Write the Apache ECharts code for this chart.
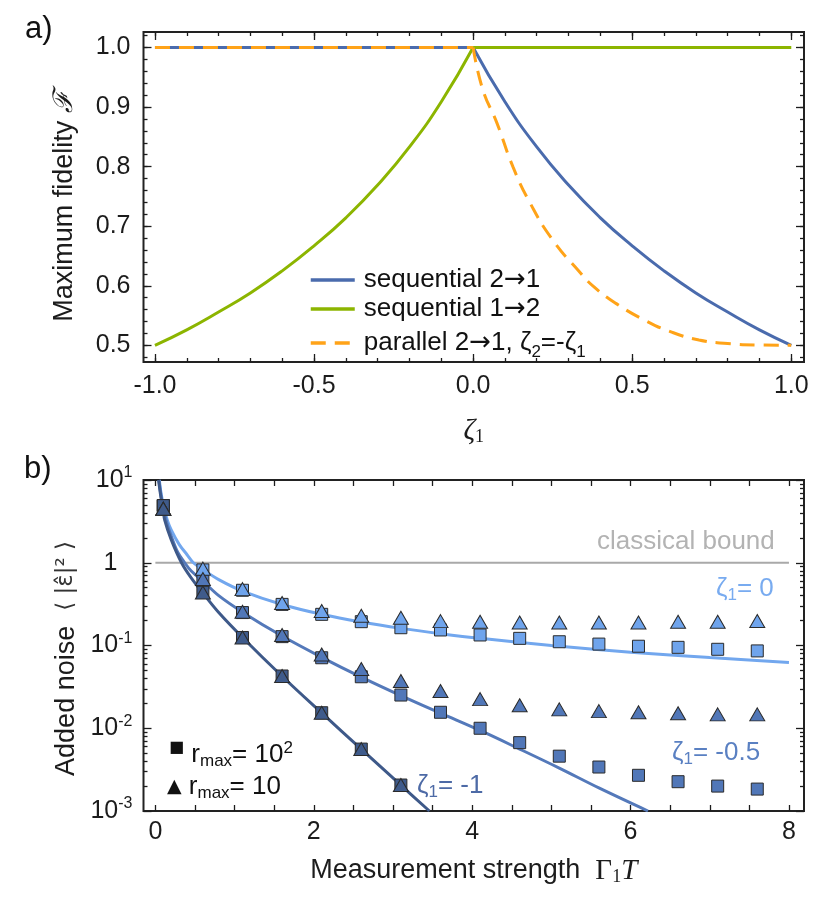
<!DOCTYPE html>
<html><head><meta charset="utf-8">
<script src="https://cdn.jsdelivr.net/npm/echarts@6/dist/echarts.min.js"></script>
<style>html,body{margin:0;padding:0;background:#fff}#c{width:830px;height:898px}</style>
</head><body><div id="c"></div>
<script>
// ===== Panel a) data =====
const zetaFlatLeft = [-1, 0];
const zetaFlatRight = [0, 1];
const flatOne = [1, 1];
const zetaNeg = [-1, -0.9, -0.8, -0.7, -0.6, -0.5, -0.4, -0.3, -0.2, -0.1, 0];
const seq12Neg = [0.5, 0.526, 0.556, 0.588, 0.625, 0.667, 0.714, 0.769, 0.833, 0.909, 1.0];
const zetaPos = [0, 0.1, 0.2, 0.3, 0.4, 0.5, 0.6, 0.7, 0.8, 0.9, 1];
const seq21Pos = [1.0, 0.909, 0.833, 0.769, 0.714, 0.667, 0.625, 0.588, 0.556, 0.526, 0.5];
const zetaPar = [0, 0.03, 0.075, 0.125, 0.18, 0.25, 0.33, 0.38, 0.45, 0.54, 0.62, 0.71, 0.80, 0.90, 1.0];
const par21Pos = [1.0, 0.93, 0.873, 0.80, 0.738, 0.677, 0.626, 0.598, 0.570, 0.542, 0.523, 0.509, 0.503, 0.5005, 0.5];
const aXMajor = [-1, -0.5, 0, 0.5, 1];
const aXMinor = [-1, -0.9, -0.8, -0.7, -0.6, -0.5, -0.4, -0.3, -0.2, -0.1, 0, 0.1, 0.2, 0.3, 0.4, 0.5, 0.6, 0.7, 0.8, 0.9, 1];
const aYMajor = [0.5, 0.6, 0.7, 0.8, 0.9, 1.0];
const aYMinor = [0.48, 0.5, 0.52, 0.54, 0.56, 0.58, 0.6, 0.62, 0.64, 0.66, 0.68, 0.7, 0.72, 0.74, 0.76, 0.78, 0.8, 0.82, 0.84, 0.86, 0.88, 0.9, 0.92, 0.94, 0.96, 0.98, 1.0, 1.02];
const N21 = 'sequential 2→1', N12 = 'sequential 1→2', NP = 'parallel 2→1, ζ2=-ζ1';

// ===== Panel b) data =====
const boundX = [0, 8];
const boundY = [1, 1];
const curve0X = [0.05, 0.07, 0.1, 0.15, 0.2, 0.3, 0.4, 0.48, 0.6, 0.8, 1.1, 1.6, 2.1, 2.6, 3.1, 3.6, 4.1, 5, 6, 7, 8];
const curve0Y = [10, 7.1, 5, 3.3, 2.5, 1.67, 1.25, 1.0, 0.83, 0.625, 0.455, 0.313, 0.238, 0.192, 0.161, 0.139, 0.122, 0.1, 0.083, 0.0714, 0.0625];
const curveM05X = [0.045, 0.07, 0.1, 0.15, 0.2, 0.28, 0.37, 0.45, 0.6, 0.8, 1.1, 1.6, 2.1, 2.6, 3.1, 3.6, 4.1, 4.6, 5.1, 5.6, 6.22];
const curveM05Y = [10, 6.6, 4.6, 2.9, 2.1, 1.35, 1.0, 0.8, 0.6, 0.4, 0.253, 0.13, 0.072, 0.0415, 0.0248, 0.0152, 0.0094, 0.0056, 0.0033, 0.0019, 0.001];
const curveM1X = [0.04, 0.07, 0.1, 0.117, 0.2, 0.33, 0.45, 0.6, 0.8, 1.1, 1.6, 2.1, 2.6, 3.1, 3.46];
const curveM1Y = [10, 6.2, 4.3, 3.3, 1.9, 1.0, 0.66, 0.43, 0.25, 0.125, 0.0425, 0.0153, 0.0056, 0.00205, 0.001];
const gammaT = [0.1, 0.6, 1.1, 1.6, 2.1, 2.6, 3.1, 3.6, 4.1, 4.6, 5.1, 5.6, 6.1, 6.6, 7.1, 7.6];
const sqZ0 = [4.9, 0.82, 0.465, 0.314, 0.238, 0.194, 0.164, 0.154, 0.134, 0.122, 0.111, 0.104, 0.098, 0.095, 0.090, 0.086];
const triZ0 = [4.5, 0.85, 0.48, 0.326, 0.261, 0.229, 0.216, 0.197, 0.194, 0.19, 0.19, 0.19, 0.19, 0.194, 0.194, 0.198];
const sqZm05 = [4.9, 0.60, 0.25, 0.128, 0.0711, 0.0419, 0.0252, 0.0156, 0.0100, 0.0067, 0.0046, 0.0034, 0.0027, 0.00226, 0.0020, 0.00184];
const triZm05 = [4.5, 0.635, 0.256, 0.134, 0.078, 0.052, 0.0372, 0.0282, 0.0225, 0.019, 0.0169, 0.0161, 0.0156, 0.0152, 0.0147, 0.0147];
const gammaTm1 = [0.1, 0.6, 1.1, 1.6, 2.1, 2.6, 3.1];
const sqZm1 = [4.9, 0.44, 0.125, 0.0428, 0.0154, 0.0056, 0.00206];
const triZm1 = [4.5, 0.436, 0.125, 0.0428, 0.0154, 0.0056, 0.00206];
const bXTicks = [0, 0.5, 1, 1.5, 2, 2.5, 3, 3.5, 4, 4.5, 5, 5.5, 6, 6.5, 7, 7.5, 8];
const bXLabels = [0, 2, 4, 6, 8];
const bYDecades = [-3, -2, -1, 0];
const bYMinorMult = [2, 3, 4, 5, 6, 7, 8, 9];

// ===== helpers =====
const pairs = (xs, ys) => xs.map((x, i) => [x, ys[i]]);
const bYMinor = [];
bYDecades.forEach(d => bYMinorMult.forEach(m => bYMinor.push(Math.log10(m) + d)));

const INK = '#1c1c1c';
const FONT = 'Liberation Sans';
function axisBase(o) {
  return Object.assign({
    type: 'value',
    axisLine: { show: false, onZero: false },
    splitLine: { show: false },
    axisLabel: { show: false },
  }, o);
}
function ticks(values, len) {
  return { show: true, inside: true, length: len, customValues: values, lineStyle: { color: INK, width: 1.3 } };
}

const blue = '#4a6bad', green = '#8cb500', orange = '#ffa318';
const cLight = '#72a7ee', cMid = '#5479ba', cDark = '#3e5989';
const mLight = '#6fa4ec', mMid = '#5177b8', mDark = '#3f5b8b';

const aX = { min: -1.036, max: 1.04 };
const aY = { min: 0.472, max: 1.026 };
const bX = { min: -0.15, max: 8.19 };

const xAxis = [
  axisBase(Object.assign({ gridIndex: 0, position: 'bottom', axisTick: ticks(aXMajor, 8),
    axisLabel: { show: true, customValues: aXMajor, formatter: v => v.toFixed(1), fontSize: 25, fontFamily: FONT, color: INK, margin: 12 },
    name: '{z|ζ}{s|1}', nameLocation: 'middle', nameGap: 54,
    nameTextStyle: { rich: {
      z: { fontFamily: 'Liberation Serif', fontStyle: 'italic', fontSize: 29, lineHeight: 30, color: INK },
      s: { fontFamily: 'Liberation Serif', fontSize: 18, lineHeight: 18, verticalAlign: 'bottom', color: INK } } }
  }, aX)),
  axisBase(Object.assign({ gridIndex: 0, position: 'top', axisTick: ticks(aXMajor, 8) }, aX)),
  axisBase(Object.assign({ gridIndex: 0, position: 'bottom', axisTick: ticks(aXMinor, 4) }, aX)),
  axisBase(Object.assign({ gridIndex: 0, position: 'top', axisTick: ticks(aXMinor, 4) }, aX)),
  axisBase(Object.assign({ gridIndex: 1, position: 'bottom', axisTick: ticks(bXTicks, 6),
    axisLabel: { show: true, customValues: bXLabels, formatter: v => String(v), fontSize: 25, fontFamily: FONT, color: INK, margin: 9 },
    name: '{t|Measurement strength  }{g|Γ}{s|1}{i|T}', nameLocation: 'middle', nameGap: 45,
    nameTextStyle: { rich: {
      t: { fontFamily: FONT, fontSize: 27, lineHeight: 30, color: INK },
      g: { fontFamily: 'Liberation Serif', fontSize: 29, lineHeight: 30, color: INK },
      s: { fontFamily: 'Liberation Serif', fontSize: 18, lineHeight: 18, verticalAlign: 'bottom', color: INK },
      i: { fontFamily: 'Liberation Serif', fontStyle: 'italic', fontSize: 29, lineHeight: 30, color: INK } } }
  }, bX)),
  axisBase(Object.assign({ gridIndex: 1, position: 'top', axisTick: ticks(bXTicks, 6) }, bX)),
];

const yAxis = [
  axisBase(Object.assign({ gridIndex: 0, position: 'left', axisTick: ticks(aYMajor, 8),
    axisLabel: { show: true, customValues: aYMajor, formatter: v => v.toFixed(1), fontSize: 25, fontFamily: FONT, color: INK, margin: 13 },
    name: '{t|Maximum fidelity }{f|ℱ}', nameLocation: 'middle', nameGap: 64,
    nameTextStyle: { padding: [0, 19, 0, 0], rich: {
      t: { fontFamily: FONT, fontSize: 27, lineHeight: 30, color: INK },
      f: { fontFamily: 'DejaVu Serif', fontStyle: 'italic', fontSize: 27, lineHeight: 30, color: INK } } }
  }, aY)),
  axisBase(Object.assign({ gridIndex: 0, position: 'right', axisTick: ticks(aYMajor, 8) }, aY)),
  axisBase(Object.assign({ gridIndex: 0, position: 'left', axisTick: ticks(aYMinor, 4) }, aY)),
  axisBase(Object.assign({ gridIndex: 0, position: 'right', axisTick: ticks(aYMinor, 4) }, aY)),
  {
    type: 'log', logBase: 10, gridIndex: 1, position: 'left', min: 0.001, max: 10,
    axisLine: { show: false, onZero: false }, splitLine: { show: false },
    axisTick: { show: true, inside: true, length: 8, lineStyle: { color: INK, width: 1.3 } },
    axisLabel: { show: true, margin: 11, color: INK,
      formatter: v => { const e = Math.round(Math.log10(v)); return e === 0 ? '{b|1}{sp| }' : '{b|10}{p|' + e + '}'; },
      rich: { b: { fontSize: 25, lineHeight: 30, fontFamily: FONT, color: INK },
              p: { fontSize: 16, lineHeight: 16, verticalAlign: 'top', fontFamily: FONT, color: INK },
              sp: { width: 15, fontSize: 16 } } },
    name: '{t|Added noise  }{m|⟨ |ε̂|² ⟩}', nameLocation: 'middle', nameGap: 61,
    nameTextStyle: { padding: [0, 26, 0, 0], rich: {
      t: { fontFamily: FONT, fontSize: 27, lineHeight: 30, color: INK },
      m: { fontFamily: 'DejaVu Sans', fontSize: 23, lineHeight: 30, color: '#333' } } }
  },
  {
    type: 'log', logBase: 10, gridIndex: 1, position: 'right', min: 0.001, max: 10,
    axisLine: { show: false, onZero: false }, splitLine: { show: false }, axisLabel: { show: false },
    axisTick: { show: true, inside: true, length: 8, lineStyle: { color: INK, width: 1.3 } }
  },
  axisBase({ gridIndex: 1, position: 'left', min: -3, max: 1, axisTick: ticks(bYMinor, 4) }),
  axisBase({ gridIndex: 1, position: 'right', min: -3, max: 1, axisTick: ticks(bYMinor, 4) }),
];

function lineA(name, xs, ys, color, opts) {
  return Object.assign({ name, type: 'line', xAxisIndex: 0, yAxisIndex: 0, data: pairs(xs, ys), symbol: 'none',
    lineStyle: { color, width: 3 }, itemStyle: { color }, emphasis: { disabled: true } }, opts || {});
}
function lineB(xs, ys, color, width, z, smooth) {
  return { type: 'line', xAxisIndex: 4, yAxisIndex: 4, data: pairs(xs, ys), symbol: 'none', smooth: smooth,
    lineStyle: { color, width }, itemStyle: { color }, z, emphasis: { disabled: true } };
}
function markB(xs, ys, color, symbol, size, z) {
  return { type: 'scatter', xAxisIndex: 4, yAxisIndex: 4, data: pairs(xs, ys), symbol, symbolSize: size, z,
    itemStyle: { color, borderColor: '#2a2a2a', borderWidth: 1, opacity: 1 }, emphasis: { disabled: true } };
}

const dash = { type: [15, 9] };
const series = [
  lineA(N21, zetaFlatLeft, flatOne, blue),
  lineA(N21, zetaPos, seq21Pos, blue, { smooth: true }),
  lineA(N12, zetaNeg, seq12Neg, green, { smooth: true }),
  lineA(N12, zetaFlatRight, flatOne, green),
  lineA(NP, zetaFlatLeft, flatOne, orange, { lineStyle: Object.assign({ color: orange, width: 3 }, dash) }),
  lineA(NP, zetaPar, par21Pos, orange, { smooth: true, lineStyle: Object.assign({ color: orange, width: 3 }, dash) }),
  lineB(boundX, boundY, '#a9a9a9', 2, 1, false),
  lineB(curve0X, curve0Y, cLight, 3, 2, 0.35),
  lineB(curveM05X, curveM05Y, cMid, 3, 2, 0.35),
  lineB(curveM1X, curveM1Y, cDark, 3, 2, 0.35),
  markB(gammaT, sqZ0, mLight, 'rect', 12, 3),
  markB(gammaT, sqZm05, mMid, 'rect', 12, 3),
  markB(gammaTm1, sqZm1, mDark, 'rect', 12, 3),
  markB(gammaT, triZ0, mLight, 'triangle', [15, 13], 4),
  markB(gammaT, triZm05, mMid, 'triangle', [15, 13], 4),
  markB(gammaTm1, triZm1, mDark, 'triangle', [15, 13], 4),
];

function zLabel(left, top, rest, color) {
  return { type: 'text', left, top, z: 10, style: {
    text: '{z|ζ}{s|1}{t|' + rest + '}',
    rich: { z: { fontFamily: FONT, fontSize: 26, lineHeight: 30, fill: color },
            s: { fontFamily: FONT, fontSize: 17, lineHeight: 17, verticalAlign: 'bottom', fill: color },
            t: { fontFamily: FONT, fontSize: 26, lineHeight: 30, fill: color } } } };
}
function rLegend(left, top, mark, markSize, markTop, exp) {
  return { type: 'text', left, top, z: 10, style: {
    text: '{m|' + mark + '}{t| r}{s|max}{t|= 10}' + (exp ? '{p|' + exp + '}' : ''),
    rich: { m: { fontFamily: 'DejaVu Sans', fontSize: markSize, lineHeight: markTop ? 22 : 30, verticalAlign: markTop ? 'top' : 'middle', fill: '#111' },
            t: { fontFamily: FONT, fontSize: 26, lineHeight: 30, fill: '#111' },
            s: { fontFamily: FONT, fontSize: 17, lineHeight: 17, verticalAlign: 'bottom', fill: '#111' },
            p: { fontFamily: FONT, fontSize: 17, lineHeight: 17, verticalAlign: 'top', fill: '#111' } } } };
}

const legendRich = {
  t: { fontFamily: FONT, fontSize: 26, lineHeight: 26, color: '#111' },
  a: { fontFamily: 'DejaVu Sans', fontSize: 26, lineHeight: 26, color: '#111' },
  t3: { fontFamily: FONT, fontSize: 26, lineHeight: 36, color: '#111' },
  a3: { fontFamily: 'DejaVu Sans', fontSize: 26, lineHeight: 36, color: '#111' },
  s: { fontFamily: FONT, fontSize: 17, lineHeight: 17, verticalAlign: 'bottom', color: '#111' }
};
function legendFmt(name) {
  if (name === N21) return '{t|sequential 2}{a|→}{t|1}';
  if (name === N12) return '{t|sequential 1}{a|→}{t|2}';
  return '{t3|parallel 2}{a3|→}{t3|1, ζ}{s|2}{t3|=-ζ}{s|1}';
}

const option = {
  animation: false,
  backgroundColor: '#fff',
  textStyle: { fontFamily: FONT },
  grid: [
    { left: 143.5, top: 32, width: 660.5, height: 330, show: true, borderColor: '#222', borderWidth: 2, backgroundColor: 'transparent' },
    { left: 143.5, top: 480, width: 660.5, height: 331, show: true, borderColor: '#222', borderWidth: 2, backgroundColor: 'transparent' },
  ],
  xAxis, yAxis, series,
  legend: {
    data: [N21, N12, NP], orient: 'vertical', left: 304, top: 262, itemWidth: 44, itemHeight: 14, itemGap: 3,
    selectedMode: false,
    itemStyle: { color: 'rgba(0,0,0,0)', borderWidth: 0, opacity: 0 },
    lineStyle: { width: 3.5 },
    formatter: legendFmt,
    textStyle: { fontFamily: FONT, fontSize: 26, lineHeight: 26, color: '#111', padding: [0, 0, 0, 4], rich: legendRich }
  },
  graphic: [
    { type: 'text', left: 25, top: 14, style: { text: 'a)', font: '31px "Liberation Sans"', fill: '#111' } },
    { type: 'text', left: 24, top: 454, style: { text: 'b)', font: '31px "Liberation Sans"', fill: '#111' } },
    { type: 'text', left: 597, top: 529, z: 10, style: { text: 'classical bound', font: '26px "Liberation Sans"', fill: '#b3b3b3' } },
    zLabel(716, 576, '= 0', '#78abf0'),
    zLabel(672, 740, '= -0.5', '#5a80c2'),
    zLabel(417, 773, '= -1', '#4d6aa6'),
    rLegend(169, 740, '■', 16, true, '2'),
    rLegend(167, 774, '▲', 19, false, ''),
  ]
};

const chart = echarts.init(document.getElementById('c'));
chart.setOption(option);
</script>
</body></html>
